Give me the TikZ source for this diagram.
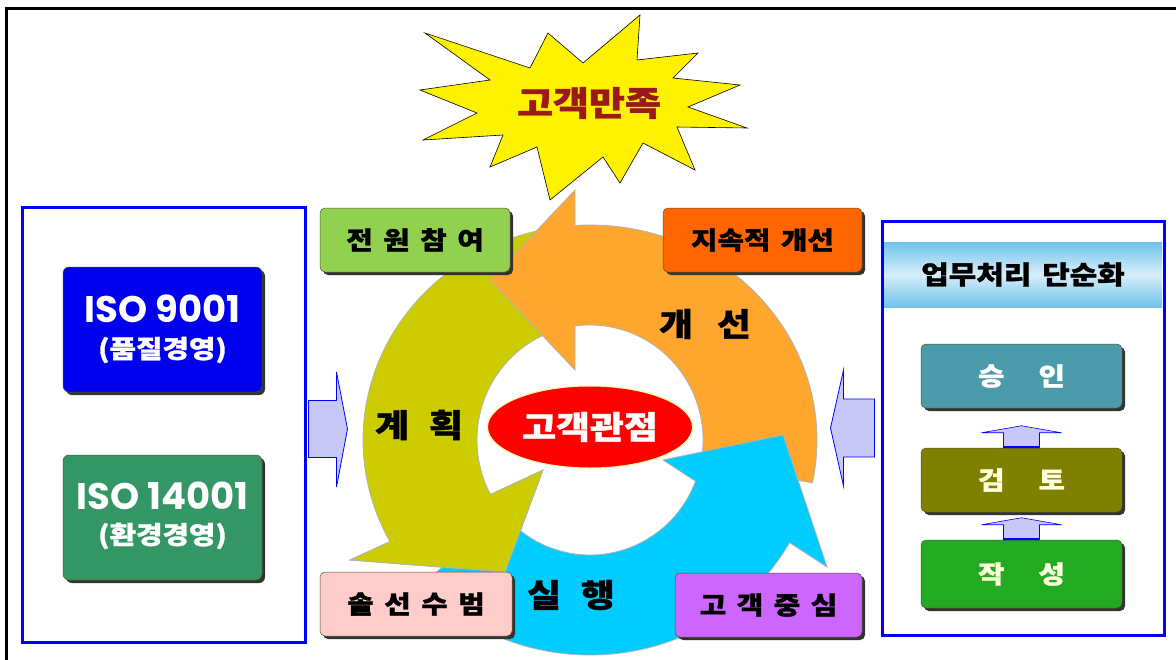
\documentclass[tikz,border=0pt]{standalone}
\usepackage{fontspec}
\usetikzlibrary{shapes.geometric,shadows,calc}
\newfontfamily\kr{Noto Sans CJK KR}[WordSpace=1.6,FakeStretch=1.15,BoldFeatures={FakeBold=1.2}]
\newfontfamily\isof{Poppins}
\definecolor{olv}{RGB}{204,204,0}
\definecolor{org}{RGB}{255,166,47}
\definecolor{cyn}{RGB}{0,204,255}
\definecolor{tagG}{RGB}{146,208,80}
\definecolor{tagO}{RGB}{255,102,0}
\definecolor{tagP}{RGB}{255,204,204}
\definecolor{tagV}{RGB}{204,102,255}
\definecolor{isoB}{RGB}{0,0,238}
\definecolor{isoG}{RGB}{51,150,100}
\definecolor{stA}{RGB}{75,155,170}
\definecolor{stR}{RGB}{128,128,0}
\definecolor{stD}{RGB}{34,170,34}
\definecolor{lav}{RGB}{200,200,248}
\definecolor{hdr}{RGB}{110,195,235}
\definecolor{hdrL}{RGB}{215,238,250}
\definecolor{txtY}{RGB}{255,255,220}
\definecolor{mrn}{RGB}{155,25,25}
\definecolor{pblue}{RGB}{0,0,255}
\begin{document}
\begin{tikzpicture}[x=1pt,y=-1pt,
  tag/.style={rounded corners=5pt, draw=black!50!olive, line width=0.5pt,
    drop shadow={shadow xshift=3pt,shadow yshift=-3pt,fill=black!80,opacity=1},
    minimum height=64pt, inner sep=0pt, text=black,
    font=\kr\bfseries\fontsize{25}{25}\selectfont},
  isobox/.style={rounded corners=6pt, draw=black!50!olive, line width=0.5pt,
    drop shadow={shadow xshift=3pt,shadow yshift=-3pt,fill=black!80,opacity=1},
    minimum width=199pt, minimum height=125pt, inner sep=0pt, text=white, align=center},
  stepbox/.style={rounded corners=5pt, draw=black!50!olive, line width=0.5pt,
    drop shadow={shadow xshift=3pt,shadow yshift=-3pt,fill=black!80,opacity=1},
    minimum width=201pt, minimum height=64pt, inner sep=0pt, text=txtY,
    font=\kr\bfseries\fontsize{25}{25}\selectfont},
  ringpart/.style={draw=black!30, line width=0.8pt},
  ringlbl/.style={font=\kr\bfseries\fontsize{32}{32}\selectfont, text=black},
  panel/.style={draw=pblue, line width=3pt, fill=white},
  blockarrow/.style={fill=lav, draw=pblue, line width=0.8pt},
  uparrow/.style={fill=lav, draw=pblue, line width=0.6pt}]
\useasboundingbox (0,0) rectangle (1176,659);
\fill[white] (0,0) rectangle (1176,659);
% outer frame
\draw[line width=2.5pt] (6.5,670) -- (6.5,8.5) -- (1190,8.5);

% ---------- cycle ----------
\begin{scope}[shift={(590,440)}, yscale=-1]
  % olive (plan)
  \path[ringpart, fill=olv] (102:227 and 215)
    arc[start angle=102, end angle=208.2, x radius=227, y radius=215]
    -- (-240,-120) -- (-85,-132) -- (-47,-30) -- (208.3:113 and 115)
    arc[start angle=208.3, end angle=102, x radius=113, y radius=115] -- cycle;
  % orange (improve)
  \path[ringpart, fill=org] (-11.5:227 and 215)
    arc[start angle=-11.5, end angle=93.79, x radius=227, y radius=215]
    -- (-15,250) -- (-100,160) -- (-15,70) -- (97.63:113 and 115)
    arc[start angle=97.63, end angle=-11.5, x radius=113, y radius=115] -- cycle;
  % cyan (do)
  \path[ringpart, fill=cyn] (222:227 and 215)
    arc[start angle=222, end angle=331.5, x radius=227, y radius=215]
    -- (237,-127) -- (193,5) -- (73,-20) -- (339:113 and 115)
    arc[start angle=339, end angle=222, x radius=113, y radius=115] -- cycle;
  % olive head again on top of cyan tail
  \fill[olv] (208.2:227 and 215) -- (-240,-120) -- (-85,-132) -- (-47,-30)
    -- (208.3:113 and 115) -- cycle;
  \draw[ringpart] (208.2:227 and 215) -- (-240,-120) -- (-85,-132) -- (-47,-30)
    -- (208.3:113 and 115);
\end{scope}

% centre ellipse
\node[ellipse, fill=red, draw=yellow!40, line width=1pt, minimum width=205pt,
  minimum height=82pt, inner sep=0pt, text=white,
  font=\kr\bfseries\fontsize{32}{32}\selectfont] (focus) at (590,427) {고객관점};

% ring labels
\node[ringlbl] (plan) at (419,425) {{\spaceskip=20pt 계 획}};
\node[ringlbl] (impr) at (705,324) {{\spaceskip=24pt 개 선}};
\node[ringlbl] (exec) at (571,595) {{\spaceskip=20pt 실 행}};

% ---------- star ----------
\filldraw[fill=yellow, draw=black, line width=0.6pt]
  (425,33) -- (530,68) -- (548,33) -- (583,63) -- (640,15) -- (637,60) -- (698,53)
  -- (673,78) -- (740,85) -- (688,107) -- (747,128) -- (677,127) -- (695,170)
  -- (643,143) -- (620,183) -- (603,157) -- (550,200) -- (537,147) -- (490,167)
  -- (503,135) -- (423,140) -- (477,113) -- (420,90) -- (490,80) -- cycle;
\node[font=\kr\bfseries\fontsize{34}{34}\selectfont, text=mrn] (sat) at (589,103) {고객만족};

% ---------- tags ----------
\node[tag, fill=tagG, minimum width=190pt] (t1) at (415,240) {전 원 참 여};
\node[tag, fill=tagO, minimum width=199pt] (t2) at (762.5,240) {지속적 개선};
\node[tag, fill=tagP, minimum width=192pt] (t3) at (416,604) {솔 선 수 범};
\node[tag, fill=tagV, minimum width=187pt] (t4) at (768.5,605) {고 객 중 심};

% ---------- left panel ----------
\node[panel, minimum width=283pt, minimum height=435pt] (lp) at (163.5,424.5) {};
\node[isobox, fill=isoB] (iso9) at (162.5,329.5) {};
\node[text=white, font=\isof\bfseries\fontsize{37}{37}\selectfont] (iso9a) at (162.5,309) {ISO 9001};
\node[text=white, font=\kr\bfseries\fontsize{25}{25}\selectfont] (iso9b) at (162.5,350) {(품질경영)};
\node[isobox, fill=isoG] (iso14) at (162.5,517.5) {};
\node[text=white, font=\isof\bfseries\fontsize{37}{37}\selectfont] (iso14a) at (162.5,496) {ISO 14001};
\node[text=white, font=\kr\bfseries\fontsize{25}{25}\selectfont] (iso14b) at (162.5,536) {(환경경영)};
\coordinate (la) at ($(lp.east)+(0,4.5)$);
\draw[blockarrow] ($(la)+(2,-28.5)$) -- ($(la)+(30,-28.5)$) -- ($(la)+(30,-57)$)
  -- ($(la)+(41,0)$) -- ($(la)+(30,58)$) -- ($(la)+(30,28.5)$) -- ($(la)+(2,28.5)$) -- cycle;

% ---------- right panel ----------
\node[panel, minimum width=282pt, minimum height=414pt] (rp) at (1023,428) {};
\node[minimum width=278pt, minimum height=65pt, inner sep=0pt,
  top color=hdr, bottom color=hdr, middle color=hdrL,
  font=\kr\bfseries\fontsize{26}{26}\selectfont] (hd) at (1023,274.5) {업무처리 단순화};
\node[stepbox, fill=stA, text=white] (ok) at (1021.5,376) {{\spaceskip=34pt 승 인}};
\node[stepbox, fill=stR] (rev) at (1021.5,480) {{\spaceskip=34pt 검 토}};
\node[stepbox, fill=stD, minimum height=68pt] (drf) at (1021.5,574) {{\spaceskip=34pt 작 성}};
\foreach \b in {rev, drf}{
  \coordinate (ua) at (\b.north);
  \draw[uparrow] ($(ua)+(-18,0)$) -- ($(ua)+(-18,-15)$) -- ($(ua)+(-40,-15)$)
    -- ($(ua)+(0,-22)$) -- ($(ua)+(40,-15)$) -- ($(ua)+(18,-15)$) -- ($(ua)+(18,0)$) -- cycle;
  \draw[pblue, line width=2pt] ($(ua)+(-18,-1)$) -- ($(ua)+(18,-1)$);
}
\coordinate (ra) at (rp.west);
\draw[blockarrow] ($(ra)+(-6,-29)$) -- ($(ra)+(-37,-29)$) -- ($(ra)+(-37,-58)$)
  -- ($(ra)+(-50,0)$) -- ($(ra)+(-37,58)$) -- ($(ra)+(-37,29)$) -- ($(ra)+(-6,29)$) -- cycle;
\end{tikzpicture}
\end{document}
